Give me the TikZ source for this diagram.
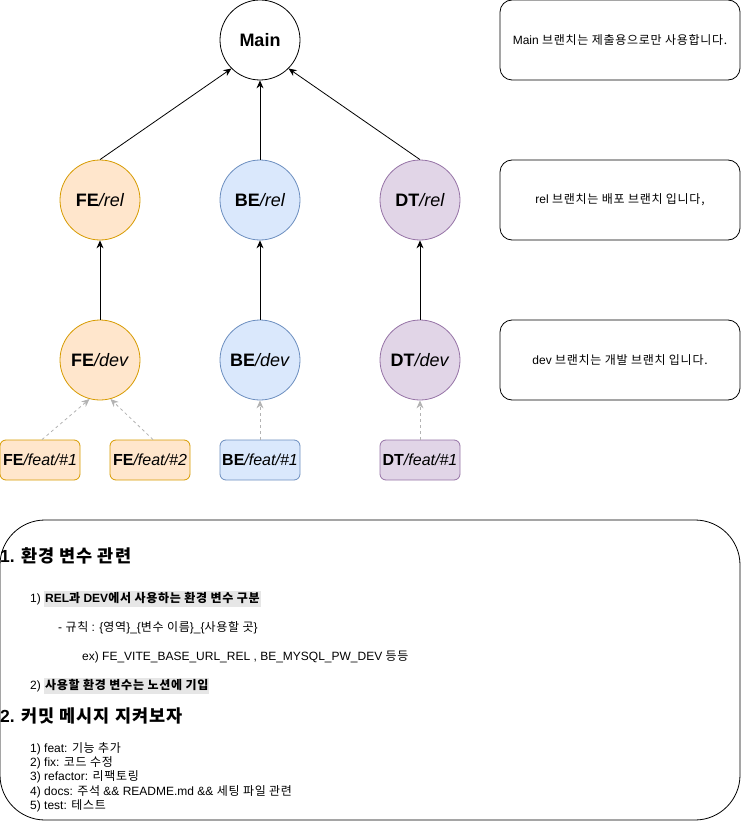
\documentclass[tikz,border=0pt]{standalone}
\usepackage{fontspec}
\usepackage{xcolor}
\setmainfont{Liberation Sans}
\newfontfamily\krfont[LetterSpace=6]{Noto Sans CJK KR}
\newcommand\K[1]{{\krfont #1}}
\usetikzlibrary{arrows.meta}
\definecolor{feF}{HTML}{FFE6CC}\definecolor{feD}{HTML}{D79B00}
\definecolor{beF}{HTML}{DAE8FC}\definecolor{beD}{HTML}{6C8EBF}
\definecolor{dtF}{HTML}{E1D5E7}\definecolor{dtD}{HTML}{9673A6}
\definecolor{dashgray}{HTML}{B3B3B3}
\definecolor{hl}{HTML}{E6E6E6}
\newcommand\HL[1]{{\setlength\fboxsep{1pt}\colorbox{hl}{\strut #1}}}
\begin{document}
\begin{tikzpicture}[x=1pt,y=-1pt,
  circ/.style={circle,draw,line width=0.8pt,minimum size=80pt,inner sep=0pt,font=\fontsize{18}{20}\selectfont},
  featbox/.style={rectangle,draw,line width=0.8pt,rounded corners=6pt,minimum width=80pt,minimum height=40pt,inner sep=0pt,font=\fontsize{16}{18}\selectfont},
  notebox/.style={rectangle,draw,line width=0.8pt,rounded corners=12pt,minimum width=240pt,minimum height=80pt,inner sep=0pt,font=\fontsize{12}{14}\selectfont},
  fe/.style={fill=feF,draw=feD},
  be/.style={fill=beF,draw=beD},
  dt/.style={fill=dtF,draw=dtD},
  solidarr/.style={-{Stealth[length=8pt,width=7pt]},line width=0.8pt},
  dasharr/.style={-{Stealth[length=8pt,width=7pt]},line width=0.8pt,draw=dashgray,dash pattern=on 3pt off 3pt},
  txt/.style={anchor=base west,inner sep=0pt,font=\fontsize{12}{14}\selectfont},
  head/.style={anchor=base west,inner sep=0pt,font=\fontsize{17.5}{20}\selectfont\bfseries}]
\useasboundingbox (0,0) rectangle (741,821);
% main
\node[circ] (main) at (260,40) {\bfseries Main};
% rel
\node[circ,fe] (fer) at (100,200) {\textbf{FE}\textit{/rel}};
\node[circ,be] (ber) at (260,200) {\textbf{BE}\textit{/rel}};
\node[circ,dt] (dtr) at (420,200) {\textbf{DT}\textit{/rel}};
% dev
\node[circ,fe] (fed) at (100,360) {\textbf{FE}\textit{/dev}};
\node[circ,be] (bed) at (260,360) {\textbf{BE}\textit{/dev}};
\node[circ,dt] (dtd) at (420,360) {\textbf{DT}\textit{/dev}};
% feat
\node[featbox,fe] (fef1) at (40,460) {\textbf{FE}\textit{/feat/\#1}};
\node[featbox,fe] (fef2) at (150,460) {\textbf{FE}\textit{/feat/\#2}};
\node[featbox,be] (bef1) at (260,460) {\textbf{BE}\textit{/feat/\#1}};
\node[featbox,dt] (dtf1) at (420,460) {\textbf{DT}\textit{/feat/\#1}};
% notes
\node[notebox] (n1) at (620,40) {Main \K{브랜치는 제출용으로만 사용합니다.}};
\node[notebox] (n2) at (620,200) {rel \K{브랜치는 배포 브랜치 입니다,}};
\node[notebox] (n3) at (620,360) {dev \K{브랜치는 개발 브랜치 입니다.}};
% arrows
\draw[solidarr] (fer.north) -- (main.225);
\draw[solidarr] (ber.north) -- (main.south);
\draw[solidarr] (dtr.north) -- (main.-45);
\draw[solidarr] (fed.north) -- (fer.south);
\draw[solidarr] (bed.north) -- (ber.south);
\draw[solidarr] (dtd.north) -- (dtr.south);
\draw[dasharr] ([xshift=2pt]fef1.north) -- (fed.-105);
\draw[dasharr] ([xshift=3pt]fef2.north) -- (fed.-75);
\draw[dasharr] (bef1.north) -- (bed.south);
\draw[dasharr] (dtf1.north) -- (dtd.south);
% bottom panel
\draw[line width=0.8pt,rounded corners=45pt] (0,520) rectangle (740,820);
\node[head] (h1) at (0,562) {1. \K{환경 변수 관련}};
\node[txt] (t1) at (30,602) {1) \HL{\bfseries REL\K{과} DEV\K{에서 사용하는 환경 변수 구분}}};
\node[txt] (t2) at (58,631) {- \K{규칙} : \{\K{영역}\}\_\{\K{변수 이름}\}\_\{\K{사용할 곳}\}};
\node[txt] (t3) at (82,660) {ex) FE\_VITE\_BASE\_URL\_REL , BE\_MYSQL\_PW\_DEV \K{등등}};
\node[txt] (t4) at (30,689) {2) \HL{\bfseries\K{사용할 환경 변수는 노션에 기입}}};
\node[head] (h2) at (0,722) {2. \K{커밋 메시지 지켜보자}};
\node[txt] (l1) at (30,752) {1) feat: \K{기능 추가}};
\node[txt] (l2) at (30,766) {2) fix: \K{코드 수정}};
\node[txt] (l3) at (30,780.5) {3) refactor: \K{리팩토링}};
\node[txt] (l4) at (30,795) {4) docs: \K{주석} \&\& README.md \&\& \K{세팅 파일 관련}};
\node[txt] (l5) at (30,809.5) {5) test: \K{테스트}};
\end{tikzpicture}
\end{document}
